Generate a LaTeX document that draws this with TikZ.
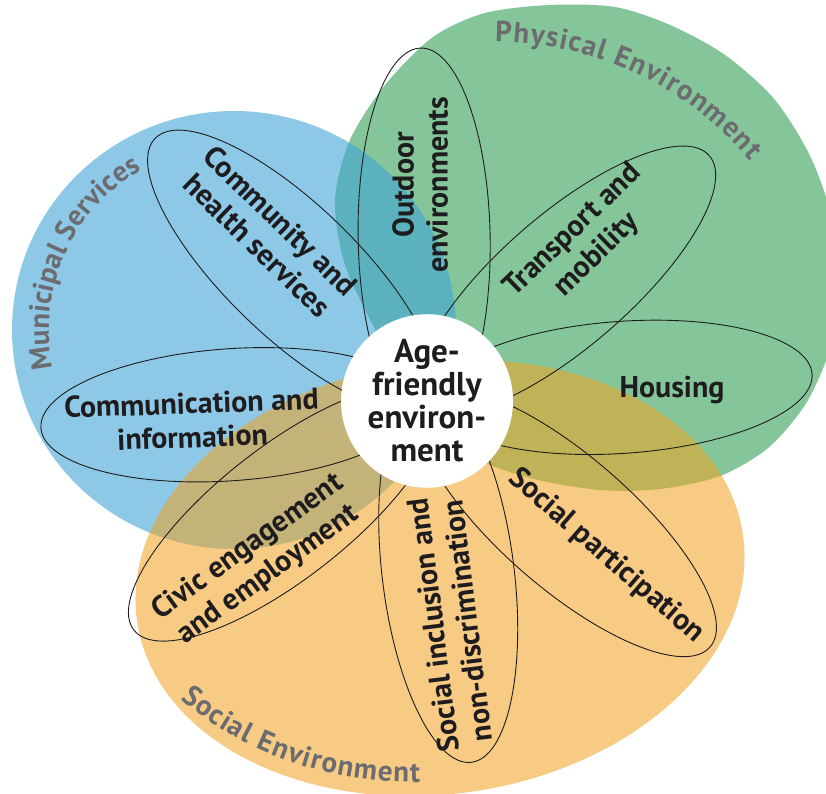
\documentclass[tikz,border=0pt]{standalone}
\usepackage{fontspec}
\setmainfont{PT Sans}
\usepackage{tikz}
\usetikzlibrary{shapes.geometric, decorations.text}

\definecolor{muniblue}{RGB}{65,165,215}
\definecolor{physgreen}{RGB}{50,160,85}
\definecolor{socorange}{RGB}{242,162,32}
\definecolor{labelgray}{RGB}{108,108,112}
\definecolor{inkblack}{RGB}{30,28,30}

\newcommand{\petalfont}{\fontsize{30}{34}\selectfont\bfseries}
\newcommand{\hubfont}{\fontsize{33}{33}\selectfont\bfseries}
\newcommand{\areafont}{\fontsize{29}{29}\selectfont\bfseries}

\begin{document}
\begin{tikzpicture}[x=1pt, y=1pt,
	area/.style={fill opacity=0.6},
	petal/.style={draw=inkblack, line width=0.9pt},
	petaltext/.style={font=\petalfont, text=inkblack, align=center, inner sep=0pt},
	arealabel/.style={decorate, decoration={text along path, text align=fit to path, text color=labelgray}}]
		\useasboundingbox (0,0) rectangle (826,-793);
		\clip (0,0) rectangle (826,-793);
		\fill[white] (0,0) rectangle (826,-793);
		% the three areas
		\fill[physgreen, area] plot[smooth cycle] coordinates {(335,-200) (350,-140) (385,-85) (433,-37) (485,-13) (550,-5) (615,-7) (670,-25) (725,-55) (775,-100) (812,-160) (835,-230) (840,-300) (828,-355) (805,-405) (768,-448) (720,-476) (660,-489) (600,-490) (530,-478) (470,-455) (415,-405) (378,-335) (345,-265)};
		\fill[muniblue, area] (234,-330) ellipse [x radius=222, y radius=219];
		\fill[socorange, area, fill opacity=0.55, rotate around={8:(440,-578)}] (440,-578) ellipse [x radius=306, y radius=216];
		% petals
		\coordinate (hub) at (427,-401);
		\foreach \ang/\dist in {91/163, 41/184, 4/196, -41/185, -83/174, 218/182, 184/197, 136/188}
			\draw[petal, shift={(hub)}, rotate=\ang] (\dist,0) ellipse [x radius=190, y radius=66];
		\node[ellipse, fill=white, minimum width=172pt, minimum height=150pt, petaltext, font=\hubfont] (agefriendly) at (hub) {Age-\\friendly\\environ-\\ment};
		% petal texts
		\node[petaltext, rotate=90] (outdoor) at (420,-185) {Outdoor\\environments};
		\node[petaltext, rotate=44] (transport) at (585,-243) {Transport and\\mobility};
		\node[petaltext] (housing) at (672,-390) {Housing};
		\node[petaltext, rotate=-41] (socpart) at (606,-556) {Social participation};
		\node[petaltext, rotate=97] (socincl) at (450,-623) {Social inclusion and\\non-discrimination};
		\node[petaltext, rotate=36] (civic) at (258,-561) {Civic engagement\\and employment};
		\node[petaltext, rotate=2] (communic) at (192,-420) {Communication and\\information};
		\node[petaltext, rotate=-44] (community) at (269,-233) {Community and\\health services};
		% area labels
		\path[arealabel, decoration={text={|\areafont|Municipal Services}}] (234,-330) ++(192:185) arc[start angle=192, end angle=120, radius=185];
		\path[arealabel, decoration={text={|\areafont|Physical Environment}}] (495,-375) ++(90:333) arc[start angle=90, end angle=40, radius=333];
		\path[arealabel, decoration={text={|\areafont|Social Environment}}] (410,-420) ++(230.6:362) arc[start angle=230.6, end angle=271.6, radius=362];
\end{tikzpicture}
\end{document}
